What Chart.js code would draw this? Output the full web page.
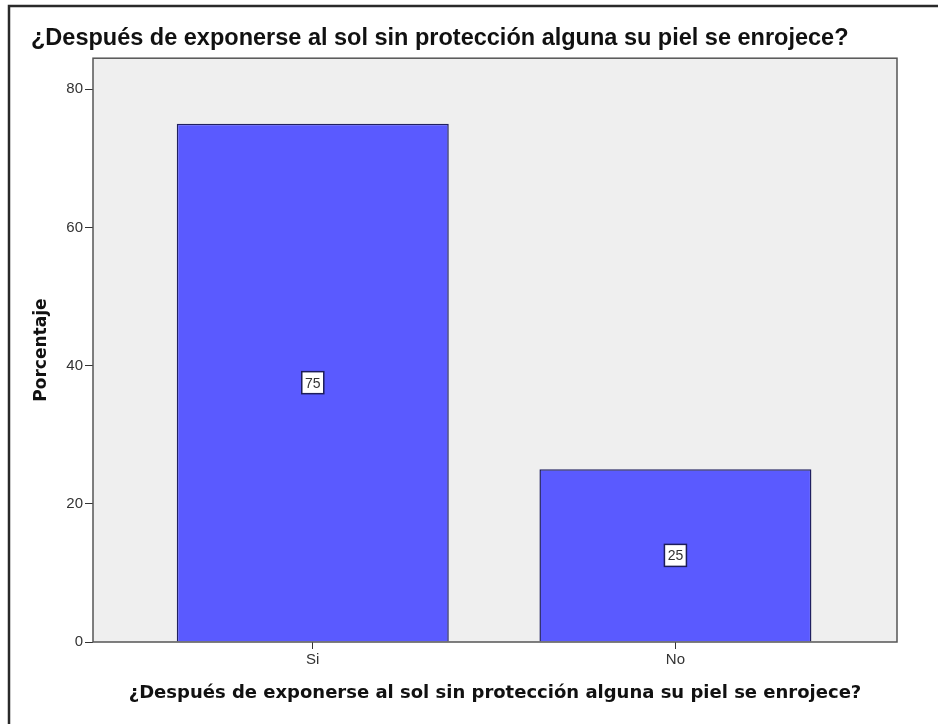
<!DOCTYPE html>
<html>
<head>
<meta charset="utf-8">
<script src="https://cdn.jsdelivr.net/npm/chart.js@4"></script>
<style>
    body { margin: 0; background: #fff; }
    #wrap { width: 938px; height: 724px; }
</style>
</head>
<body>
<div id="wrap"><canvas id="myChart" width="938" height="724"></canvas></div>
<script>
const titleText = '¿Después de exponerse al sol sin protección alguna su piel se enrojece?';
const categories = ['Si', 'No'];
const percentages = [75, 25];
const yTicks = [0, 20, 40, 60, 80];

// plot background, plot frame and the outer frame of the picture
const frame = {
    id: 'frame',
    beforeDraw(chart) {
        const ctx = chart.ctx;
        const a = chart.chartArea;
        ctx.save();
        ctx.fillStyle = '#efefef';
        ctx.fillRect(a.left, a.top, a.right - a.left, a.bottom - a.top);
        ctx.strokeStyle = '#2a2a2a';
        ctx.lineWidth = 2.5;
        ctx.beginPath();
        ctx.moveTo(9, chart.height);
        ctx.lineTo(9, 6);
        ctx.lineTo(chart.width, 6);
        ctx.stroke();
        ctx.restore();
    },
    afterDraw(chart) {
        const ctx = chart.ctx;
        const a = chart.chartArea;
        ctx.save();
        ctx.strokeStyle = '#555';
        ctx.lineWidth = 1.5;
        ctx.strokeRect(a.left, a.top, a.right - a.left, a.bottom - a.top);
        ctx.restore();
    }
}

// value boxes in the middle of each bar
const valueBoxes = {
    id: 'valueBoxes',
    afterDatasetsDraw(chart) {
        const ctx = chart.ctx;
        const meta = chart.getDatasetMeta(0);
        ctx.save();
        ctx.font = '14px "Liberation Sans", Arial, sans-serif';
        ctx.textAlign = 'center';
        ctx.textBaseline = 'middle';
        meta.data.forEach((bar, i) => {
            const cy = (bar.y + bar.base) / 2;
            const w = 22, h = 22;
            ctx.fillStyle = '#fff';
            ctx.fillRect(bar.x - w / 2, cy - h / 2, w, h);
            ctx.strokeStyle = '#1d1d5a';
            ctx.lineWidth = 1.5;
            ctx.strokeRect(bar.x - w / 2, cy - h / 2, w, h);
            ctx.fillStyle = '#333';
            ctx.fillText(String(percentages[i]), bar.x, cy + 1);
        });
        ctx.restore();
    }
}

const ctx = document.getElementById('myChart');

new Chart(ctx, {
    type: 'bar',
    data: {
        datasets: [{
            data: categories.map((c, i) => ({ x: i, y: percentages[i] })),
            backgroundColor: '#5a5aff',
            borderColor: '#202060',
            borderWidth: 1.5,
            barPercentage: 0.75,
            categoryPercentage: 1
        }]
    },
    options: {
        responsive: false,
        animation: false,
        layout: { padding: { left: 31, right: 41, top: 0, bottom: 0 } },
        plugins: {
            legend: { display: false },
            tooltip: { enabled: false },
            title: {
                display: true,
                text: titleText,
                align: 'start',
                color: '#111',
                font: { family: '"Liberation Sans", Arial, sans-serif', size: 23.5, weight: 'bold' },
                padding: { top: 24, bottom: 6 }
            }
        },
        scales: {
            x: {
                type: 'linear',
                min: -0.606,
                max: 1.611,
                offset: false,
                afterBuildTicks: scale => {
                    scale.ticks = categories.map((c, i) => ({ value: i }));
                },
                afterFit: scale => {
                    scale.height = 82;
                    scale.paddingLeft = 0;
                    scale.paddingRight = 0;
                },
                ticks: {
                    callback: v => categories[v],
                    color: '#333',
                    padding: 2,
                    maxRotation: 0,
                    font: { family: '"Liberation Sans", Arial, sans-serif', size: 15 }
                },
                grid: { offset: false, drawOnChartArea: false, drawTicks: true, tickLength: 7, color: '#333' },
                border: { display: false },
                title: {
                    display: true,
                    text: titleText,
                    color: '#111',
                    font: { family: '"DejaVu Sans", sans-serif', size: 18, weight: 'bold' },
                    padding: { top: 4, bottom: 20 }
                }
            },
            y: {
                min: 0,
                max: 84.5,
                afterBuildTicks: scale => {
                    scale.ticks = yTicks.map(v => ({ value: v }));
                },
                afterFit: scale => {
                    scale.width = 62;
                    scale.paddingTop = 0;
                    scale.paddingBottom = 0;
                },
                ticks: {
                    color: '#333',
                    padding: 2,
                    font: { family: '"Liberation Sans", Arial, sans-serif', size: 15 }
                },
                grid: { drawOnChartArea: false, drawTicks: true, tickLength: 8, color: '#333' },
                border: { display: false },
                title: {
                    display: true,
                    text: 'Porcentaje',
                    color: '#111',
                    font: { family: '"DejaVu Sans", sans-serif', size: 17, weight: 'bold' },
                    padding: 0
                }
            }
        }
    },
    plugins: [frame, valueBoxes]
});
</script>
</body>
</html>
